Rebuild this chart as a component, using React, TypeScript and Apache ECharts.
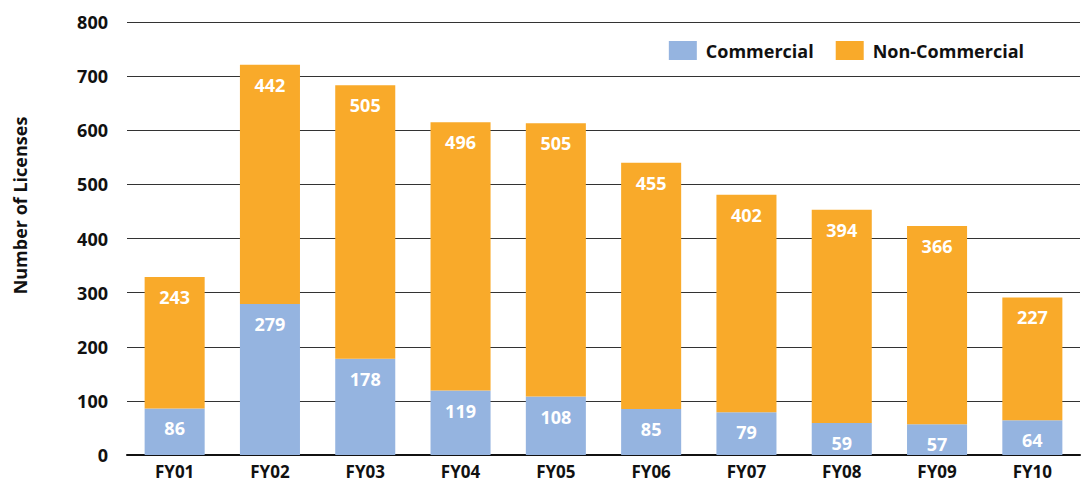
import React, { useEffect, useRef } from "react";
import * as echarts from "echarts";

const categories = ["FY01", "FY02", "FY03", "FY04", "FY05", "FY06", "FY07", "FY08", "FY09", "FY10"];
const commercial = [86, 279, 178, 119, 108, 85, 79, 59, 57, 64];
const nonCommercial = [243, 442, 505, 496, 505, 455, 402, 394, 366, 227];
const yTicks = [0, 100, 200, 300, 400, 500, 600, 700, 800];

const FONT = "'Open Sans', 'Noto Sans', sans-serif";

export default function App() {
  const ref = useRef<HTMLDivElement>(null);
  useEffect(() => {
    const chart = echarts.init(ref.current!, null, { renderer: "svg" });
    const label = {
      show: true,
      position: "insideTop" as const,
      distance: 11,
      color: "#ffffff",
      fontFamily: FONT,
      fontWeight: "bold" as const,
      fontSize: 18,
    };
    chart.setOption({
      animation: false,
      backgroundColor: "#ffffff",
      grid: { left: 127, right: 1, top: 22, bottom: 32, containLabel: false },
      legend: {
        top: 36,
        right: 52,
        itemWidth: 28,
        itemHeight: 19,
        itemGap: 22,
        icon: "rect",
        textStyle: { fontFamily: FONT, fontSize: 18, fontWeight: "bold", color: "#111", padding: [0, 0, 0, 4] },
        data: ["Commercial", "Non-Commercial"],
      },
      xAxis: {
        type: "category",
        data: categories,
        axisLine: { show: true, lineStyle: { color: "#111", width: 2 } },
        axisTick: { show: false },
        axisLabel: { color: "#111", fontFamily: FONT, fontWeight: "bold", fontSize: 17, margin: 8 },
      },
      yAxis: {
        type: "value",
        min: yTicks[0],
        max: yTicks[yTicks.length - 1],
        interval: 100,
        name: "Number of Licenses",
        nameLocation: "middle",
        nameGap: 98,
        nameRotate: 90,
        nameTextStyle: {
          color: "#111",
          fontFamily: FONT,
          fontWeight: "bold",
          fontSize: 18,
          padding: [0, 0, 0, 66],
        },
        axisLine: { show: false },
        axisTick: { show: false },
        axisLabel: { color: "#111", fontFamily: FONT, fontWeight: "bold", fontSize: 18, margin: 19 },
        splitLine: { show: true, lineStyle: { color: "#333", width: 1 } },
      },
      series: [
        {
          name: "Commercial",
          type: "bar",
          stack: "total",
          barWidth: "63%",
          data: commercial,
          itemStyle: { color: "#95B4E0" },
          label,
        },
        {
          name: "Non-Commercial",
          type: "bar",
          stack: "total",
          barWidth: "63%",
          data: nonCommercial,
          itemStyle: { color: "#F9AA2A" },
          label,
        },
      ],
    });
    return () => chart.dispose();
  }, []);
  return <div ref={ref} style={{ width: 1081, height: 487, position: "absolute", left: 0, top: 0 }} />;
}
